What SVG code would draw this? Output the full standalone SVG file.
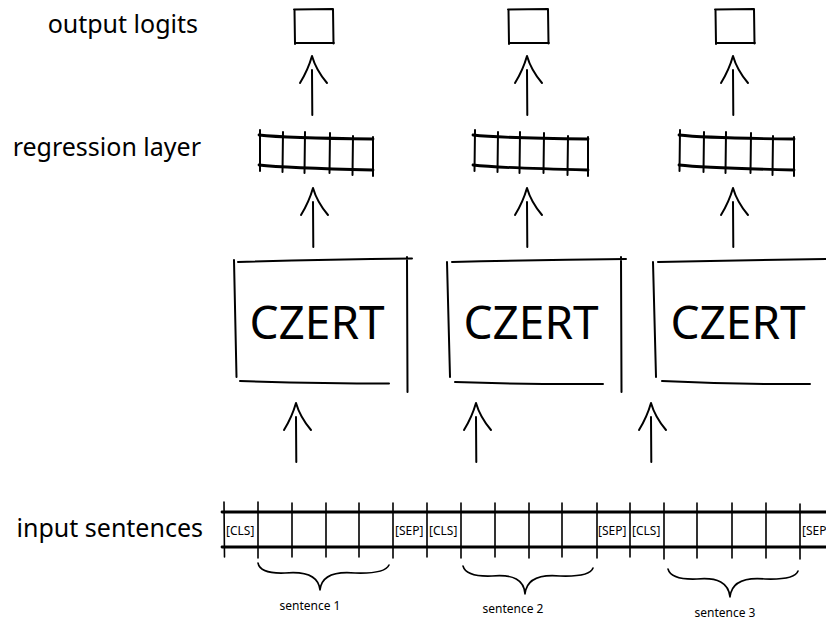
<svg xmlns="http://www.w3.org/2000/svg" width="826" height="622" viewBox="0 0 826 622">
  <defs>
    <style>
      .ink { stroke: #000; fill: none; stroke-linecap: round; stroke-linejoin: round; }
      .thin { stroke-width: 1.6; }
      .mid { stroke-width: 2; }
      .bold { stroke-width: 2.8; }
      .lbl { font-family: "Noto Sans", "DejaVu Sans", sans-serif; fill: #000; }
      .side { font-size: 25px; text-anchor: end; }
      .big { font-size: 46px; text-anchor: middle; }
      .tok { font-size: 12px; }
      .cap { font-size: 12px; text-anchor: middle; }
    </style>
    <!-- sketchy upward arrow: shaft plus curved head, drawn at origin -->
    <g id="arrowUp">
      <path class="ink mid" d="M0 14 L0.3 59"/>
      <path class="ink mid" d="M-12 27 Q-4 14 0 0 Q4 14 15 27"/>
    </g>
  </defs>

  <rect width="826" height="622" fill="#fff"/>

  <!-- row titles -->
  <g id="labels">
    <text class="lbl side" x="198" y="33">output logits</text>
    <text class="lbl side" x="201" y="156">regression layer</text>
    <text class="lbl side" x="203" y="537">input sentences</text>
  </g>

  <!-- output logits -->
  <g id="out1">
    <path class="ink mid" d="M294.5 10 L295 44 M294 9.5 L333 9 M333 9 L333.5 43.5 M295 43 L334 43"/>
  </g>
  <g id="out2">
    <path class="ink mid" d="M508.5 10 L509 44 M508 9.5 L548 9 M548 9 L548.5 43.5 M509 43 L549 43"/>
  </g>
  <g id="out3">
    <path class="ink mid" d="M715.5 10 L716 44 M715 9.5 L754 9 M754 9 L754.5 43.5 M716 43 L755 43"/>
  </g>

  <!-- regression layers -->
  <g id="reg1">
    <path class="ink bold" d="M259 135 Q285 138 373 139 M259 165 Q285 168 373 170"/>
    <path class="ink mid" d="M260 130 L260 171 M283 132 L282.5 172 M305 132 L304.5 173 M330 133 L329.5 173 M353 136 L352.5 175 M373 137 L373 176"/>
  </g>
  <g id="reg2">
    <path class="ink bold" d="M473 135 Q499 138 588 139 M473 165 Q499 168 588 170"/>
    <path class="ink mid" d="M475 130 L474.5 171 M498 132 L497.5 172 M520 132 L519.5 173 M544 133 L543.5 173 M568 136 L567.5 175 M588 137 L588 176"/>
  </g>
  <g id="reg3">
    <path class="ink bold" d="M679 135 Q705 138 794 139 M679 165 Q705 168 794 170"/>
    <path class="ink mid" d="M680 130 L679.5 171 M704 132 L703.5 172 M726 132 L725.5 173 M751 133 L750.5 173 M773 136 L772.5 175 M794 137 L794 176"/>
  </g>

  <!-- encoder blocks -->
  <g id="czert1">
    <path class="ink mid" d="M234 260 L236.5 377 M238 262 Q320 259.5 412 258.5 M407 257 L407.5 392 M240 381 Q320 383.5 389 383.5"/>
    <text class="lbl big" x="317" y="339">CZERT</text>
  </g>
  <g id="czert2">
    <path class="ink mid" d="M447 262 L450 377 M452 262 Q540 260 626 259 M621 257 L621.5 392 M455 382 Q530 384.5 603 384"/>
    <text class="lbl big" x="531" y="339">CZERT</text>
  </g>
  <g id="czert3">
    <path class="ink mid" d="M653 262 L656 377 M658 262 Q740 260 830 259 M662 381 Q740 384.5 810 384"/>
    <text class="lbl big" x="738" y="339">CZERT</text>
  </g>

  <!-- token strip -->
  <g id="input">
    <path class="ink bold" d="M222 512 L830 512 M222 547 L830 547"/>
    <path class="ink thin" d="M224 502 L224.5 557 M258 502 L258 558 M292 503 L292 557 M326 503 L326 557 M359 503 L359 557 M393 503 L393 558 M427 503 L427 557 M461 503 L461 558 M495 503 L495 557 M529 503 L529 558 M562 503 L562 557 M597 503 L597 558 M630 503 L630 557 M664 503 L664 559 M697 503 L697 558 M732 503 L732 558 M766 503 L766 558 M800 504 L800 559"/>
    <text class="lbl tok" x="226" y="535">[CLS]</text>
    <text class="lbl tok" x="395" y="535">[SEP]</text>
    <text class="lbl tok" x="429" y="535">[CLS]</text>
    <text class="lbl tok" x="598" y="535">[SEP]</text>
    <text class="lbl tok" x="632" y="535">[CLS]</text>
    <text class="lbl tok" x="802" y="535">[SEP]</text>
  </g>

  <!-- sentence spans -->
  <g id="braces">
    <path class="ink thin" d="M258 563 Q260 574 285 573 Q318 570 320 590 Q322 570 355 573 Q385 574 389 565"/>
    <path class="ink thin" d="M463 566 Q466 577 492 576 Q524 573 525 594 Q527 573 560 576 Q590 577 593 568"/>
    <path class="ink thin" d="M668 569 Q671 580 697 579 Q728 576 730 597 Q732 576 765 579 Q795 580 798 571"/>
    <text class="lbl cap" x="310" y="610">sentence 1</text>
    <text class="lbl cap" x="513" y="613">sentence 2</text>
    <text class="lbl cap" x="725" y="617">sentence 3</text>
  </g>

  <!-- connectors -->
  <g id="connectors">
    <use href="#arrowUp" x="312" y="56"/>
    <use href="#arrowUp" x="527" y="56"/>
    <use href="#arrowUp" x="733" y="56"/>
    <use href="#arrowUp" x="313" y="188"/>
    <use href="#arrowUp" x="527" y="188"/>
    <use href="#arrowUp" x="733" y="188"/>
    <use href="#arrowUp" x="296" y="403"/>
    <use href="#arrowUp" x="476" y="403"/>
    <use href="#arrowUp" x="651" y="403"/>
  </g>
</svg>
